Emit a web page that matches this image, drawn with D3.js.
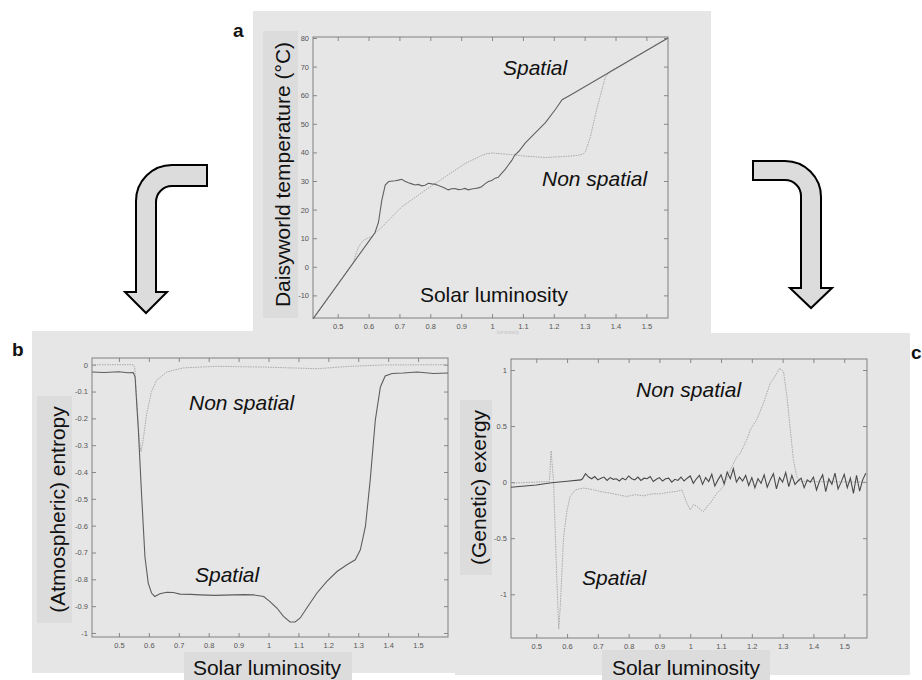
<!DOCTYPE html>
<html>
<head>
<meta charset="utf-8">
<script src="https://cdn.jsdelivr.net/npm/d3@7"></script>
<style>
  body { margin: 0; background: #fff; }
  text { font-family: "Liberation Sans", Arial, sans-serif; }
</style>
</head>
<body>
<svg id="fig" width="922" height="680"></svg>
<script>
// solar luminosity ticks shared by all three panels
const lumTicks = [0.5, 0.6, 0.7, 0.8, 0.9, 1.0, 1.1, 1.2, 1.3, 1.4, 1.5]
const lumTickLabels = ["0.5", "0.6", "0.7", "0.8", "0.9", "1", "1.1", "1.2", "1.3", "1.4", "1.5"]

// panel a: daisyworld temperature
const tempTicks = [-10, 0, 10, 20, 30, 40, 50, 60, 70, 80]
const tempTickLabels = ["-10", "0", "10", "20", "30", "40", "50", "60", "70", "80"]
const lumA_spatial = [0.42, 0.61, 0.621, 0.632, 0.643, 0.654, 0.665, 0.686, 0.697, 0.707, 0.718, 0.729, 0.74, 0.75, 0.761, 0.772, 0.783, 0.794, 0.805, 0.815, 0.826, 0.837, 0.848, 0.858, 0.869, 0.88, 0.891, 0.902, 0.912, 0.923, 0.934, 0.945, 0.956, 0.966, 0.977, 0.988, 0.999, 1.01, 1.02, 1.031, 1.042, 1.053, 1.064, 1.074, 1.087, 1.108, 1.14, 1.173, 1.205, 1.227, 1.26, 1.57]
const tempA_spatial = [-18.2, 10.3, 12.0, 15.5, 23.3, 28.6, 29.8, 30.1, 30.3, 30.6, 29.9, 29.4, 29.0, 28.6, 28.8, 28.3, 28.5, 29.2, 29.0, 28.9, 28.4, 28.0, 27.5, 26.9, 27.3, 27.4, 27.0, 27.1, 27.4, 26.9, 27.2, 27.4, 27.6, 28.0, 29.0, 29.8, 30.2, 31.0, 31.3, 32.7, 34.0, 35.6, 37.2, 39.1, 40.4, 43.3, 46.8, 50.4, 55.0, 58.4, 60.4, 80.0]
const lumA_nonspatial = [0.42, 0.551, 0.559, 0.567, 0.575, 0.583, 0.596, 0.61, 0.643, 0.708, 0.784, 0.849, 0.914, 0.96, 0.98, 1.0, 1.054, 1.108, 1.173, 1.238, 1.281, 1.296, 1.303, 1.319, 1.328, 1.339, 1.35, 1.366, 1.38, 1.57]
const tempA_nonspatial = [-18.2, 1.6, 4.5, 6.8, 8.2, 9.2, 10.0, 10.6, 13.9, 21.0, 26.8, 31.5, 36.2, 38.6, 39.5, 39.8, 39.3, 38.7, 38.2, 38.6, 39.0, 39.5, 40.4, 45.6, 50.0, 55.0, 59.5, 66.0, 68.2, 80.0]

// panel b: atmospheric entropy
const entTicks = [0, -0.1, -0.2, -0.3, -0.4, -0.5, -0.6, -0.7, -0.8, -0.9, -1]
const entTickLabels = ["0", "-0.1", "-0.2", "-0.3", "-0.4", "-0.5", "-0.6", "-0.7", "-0.8", "-0.9", "-1"]
const lumB_spatial = [0.41, 0.45, 0.5, 0.53, 0.548, 0.554, 0.565, 0.576, 0.587, 0.598, 0.609, 0.62, 0.637, 0.66, 0.682, 0.704, 0.74, 0.771, 0.82, 0.883, 0.92, 0.95, 0.984, 1.004, 1.028, 1.05, 1.072, 1.089, 1.106, 1.128, 1.162, 1.195, 1.229, 1.262, 1.29, 1.307, 1.324, 1.34, 1.357, 1.374, 1.39, 1.413, 1.45, 1.497, 1.552, 1.6]
const entB_spatial = [-0.027, -0.029, -0.026, -0.03, -0.029, -0.046, -0.244, -0.49, -0.717, -0.814, -0.851, -0.864, -0.854, -0.848, -0.849, -0.855, -0.856, -0.858, -0.86, -0.858, -0.857, -0.858, -0.864, -0.882, -0.907, -0.938, -0.959, -0.959, -0.944, -0.907, -0.851, -0.808, -0.771, -0.746, -0.727, -0.69, -0.603, -0.43, -0.207, -0.083, -0.042, -0.033, -0.031, -0.027, -0.033, -0.031]
const lumB_nonspatial = [0.41, 0.548, 0.553, 0.559, 0.568, 0.574, 0.581, 0.593, 0.609, 0.626, 0.66, 0.715, 0.827, 0.993, 1.162, 1.274, 1.385, 1.6]
const entB_nonspatial = [0, 0, -0.01, -0.12, -0.28, -0.325, -0.28, -0.182, -0.1, -0.058, -0.027, -0.012, -0.006, -0.009, -0.015, -0.006, -0.001, 0]

// panel c: genetic exergy
const exTicks = [1, 0.5, 0, -0.5, -1]
const exTickLabels = ["1", "0.5", "0", "-0.5", "-1"]
const lumC_spatial = [0.418, 0.5, 0.55, 0.6, 0.645,
  0.65, 0.66, 0.67, 0.68, 0.69, 0.70, 0.71, 0.72, 0.73, 0.74, 0.75, 0.76, 0.77, 0.78, 0.79,
  0.80, 0.81, 0.82, 0.83, 0.84, 0.85, 0.86, 0.87, 0.88, 0.89, 0.90, 0.91, 0.92, 0.93, 0.94,
  0.95, 0.96, 0.97, 0.98, 0.99, 1.00, 1.01, 1.02, 1.03, 1.04, 1.05, 1.06, 1.07, 1.08, 1.09,
  1.10, 1.11, 1.12, 1.13, 1.14, 1.15, 1.16, 1.17, 1.18, 1.19, 1.20, 1.21, 1.22, 1.23, 1.24,
  1.25, 1.26, 1.27, 1.28, 1.29, 1.30, 1.31, 1.32, 1.33, 1.34, 1.35, 1.36, 1.37, 1.38, 1.39,
  1.40, 1.41, 1.42, 1.43, 1.44, 1.45, 1.46, 1.47, 1.48, 1.49, 1.50, 1.51, 1.52, 1.53, 1.54,
  1.55, 1.56, 1.57]
const exC_spatial = [-0.045, -0.025, -0.005, 0.008, 0.02,
  0.03, 0.075, 0.045, 0.03, 0.05, 0.02, 0.035, 0.045, 0.015, 0.04, 0.025, 0.03, 0.01, 0.035, 0.02,
  0.055, 0.03, 0.02, 0.045, 0.015, 0.035, 0.03, 0.05, 0.005, 0.025, 0.04, 0.01, 0.03, 0.035, 0.0,
  0.025, 0.015, 0.045, 0.01, 0.035, 0.055, -0.01, 0.03, 0.06, -0.02, 0.04, 0.005, 0.07, -0.035, 0.02,
  0.065, -0.015, 0.09, 0.03, 0.12, 0.0, 0.045, 0.01, 0.06, -0.03, 0.04, -0.05, 0.03, -0.01, 0.065,
  -0.045, 0.02, 0.075, -0.06, 0.04, 0.0, 0.085, -0.04, 0.06, -0.02, 0.01, 0.035, -0.05, 0.02, 0.0,
  0.045, -0.07, 0.01, 0.065, -0.085, 0.03, -0.02, 0.08, -0.06, 0.0, 0.07, -0.05, 0.035, -0.1, 0.06,
  -0.08, 0.02, 0.08]
const lumC_nonspatial = [0.418, 0.5, 0.543, 0.548, 0.556, 0.565, 0.573, 0.578, 0.589, 0.6, 0.61, 0.627, 0.654, 0.686, 0.71, 0.74, 0.77, 0.794, 0.82, 0.848, 0.875, 0.903, 0.93, 0.957, 0.973, 0.989, 1.0, 1.011, 1.022, 1.033, 1.043, 1.054, 1.065, 1.087, 1.108, 1.13, 1.152, 1.163, 1.173, 1.184, 1.195, 1.216, 1.238, 1.26, 1.27, 1.281, 1.29, 1.303, 1.314, 1.325, 1.335, 1.346, 1.357, 1.574]
const exC_nonspatial = [-0.009, 0.0, 0.006, 0.28, 0.02, -0.72, -1.31, -1.11, -0.48, -0.25, -0.128, -0.068, -0.053, -0.068, -0.085, -0.098, -0.115, -0.128, -0.112, -0.122, -0.105, -0.104, -0.09, -0.083, -0.068, -0.187, -0.247, -0.2, -0.217, -0.245, -0.262, -0.22, -0.187, -0.098, -0.039, 0.11, 0.229, 0.26, 0.318, 0.38, 0.467, 0.556, 0.705, 0.884, 0.92, 0.97, 1.015, 0.985, 0.762, 0.467, 0.199, 0.05, 0.006, 0.0]

const svg = d3.select("#fig")
svg.append("rect").attr("width", 922).attr("height", 680).attr("fill", "#fff")

// grey panel backgrounds
const BG = "#e6e6e6", LABEL_BG = "#dcdcdc"
svg.append("rect").attr("x", 253).attr("y", 11).attr("width", 458).attr("height", 329).attr("fill", BG)
svg.append("rect").attr("x", 32).attr("y", 331).attr("width", 438).attr("height", 342).attr("fill", BG)
svg.append("rect").attr("x", 455).attr("y", 333).attr("width", 455).attr("height", 342).attr("fill", BG)

draw_arrows()

draw_panel({
  left: 313, top: 37, right: 668, bottom: 318,
  xdom: [0.42, 1.57], ydom: [-17.9, 80.35],
  yTicks: tempTicks, yLabels: tempTickLabels,
  series: [[lumA_nonspatial, tempA_nonspatial], [lumA_spatial, tempA_spatial]],
  solid: "#616161",
  ylab: "Daisyworld temperature (°C)", ylabBox: [263, 31, 35, 287], ylabX: 282,
  letter: ["a", 233, 37],
  notes: [["Spatial", 503, 75], ["Non spatial", 542, 186]]
})
svg.append("text").attr("x", 494).attr("y", 302).attr("text-anchor", "middle")
  .attr("font-size", 21).attr("fill", "#111").text("Solar luminosity")
svg.append("text").attr("x", 508).attr("y", 334).attr("text-anchor", "middle")
  .attr("font-size", 5).attr("fill", "#c4c4c4").text("luminosity")

draw_panel({
  left: 92, top: 358, right: 448, bottom: 637,
  xdom: [0.41, 1.60], ydom: [-1.015, 0.025],
  yTicks: entTicks, yLabels: entTickLabels,
  series: [[lumB_nonspatial, entB_nonspatial], [lumB_spatial, entB_spatial]],
  solid: "#5e5e5e",
  ylab: "(Atmospheric) entropy", ylabBox: [37, 396, 35, 227], ylabX: 57,
  xlabBox: [184, 652, 168, 28], xlabX: 267,
  letter: ["b", 12, 356],
  notes: [["Non spatial", 189, 410], ["Spatial", 195, 582]]
})

draw_panel({
  left: 511, top: 359, right: 867, bottom: 638,
  xdom: [0.418, 1.574], ydom: [-1.39, 1.098],
  yTicks: exTicks, yLabels: exTickLabels,
  series: [[lumC_nonspatial, exC_nonspatial], [lumC_spatial, exC_spatial]],
  solid: "#4a4a4a",
  ylab: "(Genetic) exergy", ylabBox: [460, 400, 32, 175], ylabX: 478,
  xlabBox: [602, 650, 168, 30], xlabX: 686,
  letter: ["c", 911, 359],
  notes: [["Non spatial", 636, 397], ["Spatial", 582, 585]]
})

function draw_panel(p){
  let x = d3.scaleLinear().domain(p.xdom).range([p.left, p.right])
  let y = d3.scaleLinear().domain(p.ydom).range([p.bottom, p.top])

  // y label box
  svg.append("rect").attr("x", p.ylabBox[0]).attr("y", p.ylabBox[1])
    .attr("width", p.ylabBox[2]).attr("height", p.ylabBox[3]).attr("fill", LABEL_BG)
  let cy = p.ylabBox[1] + p.ylabBox[3]/2
  svg.append("text").attr("transform", `translate(${p.ylabX},${cy}) rotate(-90)`)
    .attr("text-anchor", "middle").attr("dominant-baseline", "central")
    .attr("font-size", 21).attr("fill", "#111").text(p.ylab)

  if (p.xlabBox){
    svg.append("rect").attr("x", p.xlabBox[0]).attr("y", p.xlabBox[1])
      .attr("width", p.xlabBox[2]).attr("height", p.xlabBox[3]).attr("fill", LABEL_BG)
    svg.append("text").attr("x", p.xlabX).attr("y", 675).attr("text-anchor", "middle")
      .attr("font-size", 21).attr("fill", "#111").text("Solar luminosity")
  }

  let axisStyle = g => {
    g.select(".domain").remove()
    g.selectAll("line").attr("stroke", "#888")
    g.selectAll("text").attr("fill", "#555").attr("font-size", 7.5)
      .attr("font-family", "Liberation Sans, Arial, sans-serif")
  }
  svg.append("g").attr("transform", `translate(0,${p.bottom})`)
    .call(d3.axisBottom(x).tickValues(lumTicks).tickFormat((d, i) => lumTickLabels[i]).tickSize(-4).tickPadding(6))
    .call(axisStyle)
  svg.append("g").attr("transform", `translate(0,${p.top})`)
    .call(d3.axisTop(x).tickValues(lumTicks).tickFormat("").tickSize(-4))
    .call(axisStyle)
  svg.append("g").attr("transform", `translate(${p.left},0)`)
    .call(d3.axisLeft(y).tickValues(p.yTicks).tickFormat((d, i) => p.yLabels[i]).tickSize(-4).tickPadding(4))
    .call(axisStyle)
  svg.append("g").attr("transform", `translate(${p.right},0)`)
    .call(d3.axisRight(y).tickValues(p.yTicks).tickFormat("").tickSize(-4))
    .call(axisStyle)

  svg.append("rect").attr("x", p.left).attr("y", p.top)
    .attr("width", p.right - p.left).attr("height", p.bottom - p.top)
    .attr("fill", "none").attr("stroke", "#808080").attr("stroke-width", 1)

  let line = d3.line().x(d => x(d[0])).y(d => y(d[1]))
  p.series.forEach((s, i) => {
    let pts = d3.zip(s[0], s[1])
    let path = svg.append("path").attr("d", line(pts)).attr("fill", "none")
    if (i == 0) path.attr("stroke", "#a9a9a9").attr("stroke-width", 1).attr("stroke-dasharray", "1.5,1")
    else path.attr("stroke", p.solid).attr("stroke-width", 1.1)
  })

  p.notes.forEach(n => {
    svg.append("text").attr("x", n[1]).attr("y", n[2]).attr("font-size", 21)
      .attr("font-style", "italic").attr("fill", "#111").text(n[0])
  })

  svg.append("text").attr("x", p.letter[1]).attr("y", p.letter[2])
    .attr("font-size", 19).attr("font-weight", "bold").attr("fill", "#111").text(p.letter[0])
}

function draw_arrows(){
  // bent arrow to panel b
  let left = d3.path()
  left.moveTo(207, 165)
  left.lineTo(172, 165)
  left.arcTo(136, 165, 136, 201, 36)
  left.lineTo(136, 292)
  left.lineTo(125, 292)
  left.lineTo(146, 313)
  left.lineTo(167, 292)
  left.lineTo(156, 292)
  left.lineTo(156, 202)
  left.arcTo(156, 186, 172, 186, 16)
  left.lineTo(207, 186)
  left.closePath()

  // bent arrow to panel c
  let right = d3.path()
  right.moveTo(753, 161)
  right.lineTo(785, 161)
  right.arcTo(821, 161, 821, 197, 36)
  right.lineTo(821, 288)
  right.lineTo(832, 288)
  right.lineTo(811, 308)
  right.lineTo(790, 288)
  right.lineTo(801, 288)
  right.lineTo(801, 196)
  right.arcTo(801, 180, 785, 180, 16)
  right.lineTo(753, 180)
  right.closePath()

  ;[left, right].forEach(a => {
    svg.append("path").attr("d", a.toString()).attr("fill", "#dcdcdc")
      .attr("stroke", "#000").attr("stroke-width", 2).attr("stroke-linejoin", "miter")
  })
}
</script>
</body>
</html>
